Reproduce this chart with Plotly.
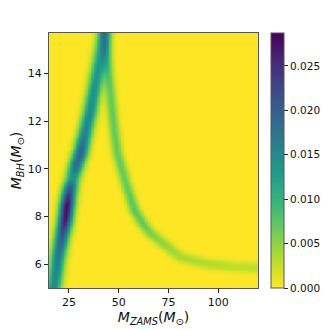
import numpy as np
import plotly.graph_objects as go

# Ridge of the rising branch (M_ZAMS, M_BH, density)
rise_zams = [15.5, 17.5, 19.2, 21.2, 22.9, 23.8, 25.0, 26.5, 28.5, 30.6, 32.8, 35.6, 39.8, 42.5, 44.0]
rise_bh = [4.6, 5.2, 6.3, 7.2, 7.9, 8.5, 9.1, 9.6, 10.2, 10.7, 11.5, 12.5, 14.4, 15.7, 16.4]
rise_dens = [0.015, 0.015, 0.017, 0.021, 0.027, 0.028, 0.022, 0.014, 0.019, 0.020, 0.016, 0.015, 0.013, 0.011, 0.010]

# Ridge of the falling branch
fall_zams = [42.5, 44.0, 45.8, 47.0, 49.0, 53.4, 57.6, 62.0, 66.0, 72.0, 81.0, 93.0, 108.0, 121.0]
fall_bh = [15.7, 14.5, 13.0, 12.0, 10.7, 9.4, 8.3, 7.7, 7.3, 6.9, 6.3, 6.05, 5.9, 5.85]
fall_dens = [0.0075, 0.0075, 0.007, 0.007, 0.007, 0.007, 0.0075, 0.007, 0.006, 0.005, 0.004, 0.0035, 0.003, 0.003]

x_ticks = [25, 50, 75, 100]
y_ticks = [6, 8, 10, 12, 14]
cb_ticks = [0.0, 0.005, 0.010, 0.015, 0.020, 0.025]

# grid
gx = np.linspace(15, 120, 140)
gy = np.linspace(5, 15.7, 140)
X, Y = np.meshgrid(gx, gy)

PX_X = 1.973   # px per M_ZAMS unit
PX_Y = 23.87   # px per M_BH unit


def branch(zs, bs, ds, sig):
    zs = np.asarray(zs); bs = np.asarray(bs); ds = np.asarray(ds)
    seg = np.hypot(np.diff(zs) * PX_X, np.diff(bs) * PX_Y)
    s = np.concatenate([[0], np.cumsum(seg)])
    ss = np.linspace(0, s[-1], 1500)
    pz = np.interp(ss, s, zs)
    pb = np.interp(ss, s, bs)
    pd = np.interp(ss, s, ds)
    out = np.zeros_like(X)
    for z, b, d in zip(pz[::3], pb[::3], pd[::3]):
        dist2 = ((X - z) * PX_X) ** 2 + ((Y - b) * PX_Y) ** 2
        out = np.maximum(out, d * np.exp(-dist2 / (2 * sig ** 2)))
    return out


Z = branch(rise_zams, rise_bh, rise_dens, 5.0) + branch(fall_zams, fall_bh, fall_dens, 3.8)

fig = go.Figure(go.Heatmap(
    x=gx, y=gy, z=Z, colorscale="Viridis", reversescale=True,
    zmin=0, zmax=0.0287, zsmooth="best", hoverinfo="skip",
    colorbar=dict(
        thickness=13, len=1.0, lenmode="fraction", x=1.0, xpad=13, xanchor="left",
        y=0.5, yanchor="middle", ypad=0,
        outlinewidth=1, outlinecolor="#555",
        tickvals=cb_ticks, tickformat=".3f", ticks="outside", ticklen=4,
        tickcolor="#222", tickfont=dict(family="DejaVu Sans", size=10.5, color="#111"),
    ),
))

axis_common = dict(showgrid=False, zeroline=False, ticks="outside", ticklen=4,
                   tickcolor="#222", showline=True, linecolor="#555", linewidth=1,
                   mirror=True, automargin=False,
                   tickfont=dict(family="DejaVu Sans", size=11, color="#111"))

fig.update_layout(
    width=330, height=330,
    margin=dict(l=49, r=72, t=33, b=42, autoexpand=False),
    paper_bgcolor="white", plot_bgcolor="white",
    font=dict(family="DejaVu Sans", color="#111"),
    xaxis=dict(range=[15, 120], tickvals=x_ticks,
               title=dict(text="<i>M</i><sub><i>ZAMS</i></sub>(<i>M</i><sub>⊙</sub>)",
                          font=dict(size=14), standoff=0),
               **axis_common),
    yaxis=dict(range=[5, 15.7], tickvals=y_ticks,
               title=dict(text="<i>M</i><sub><i>BH</i></sub>(<i>M</i><sub>⊙</sub>)",
                          font=dict(size=14), standoff=2),
               **axis_common),
)

fig.write_html("out.html", config={"displayModeBar": False},
               post_script="document.body.style.margin='0px';")
